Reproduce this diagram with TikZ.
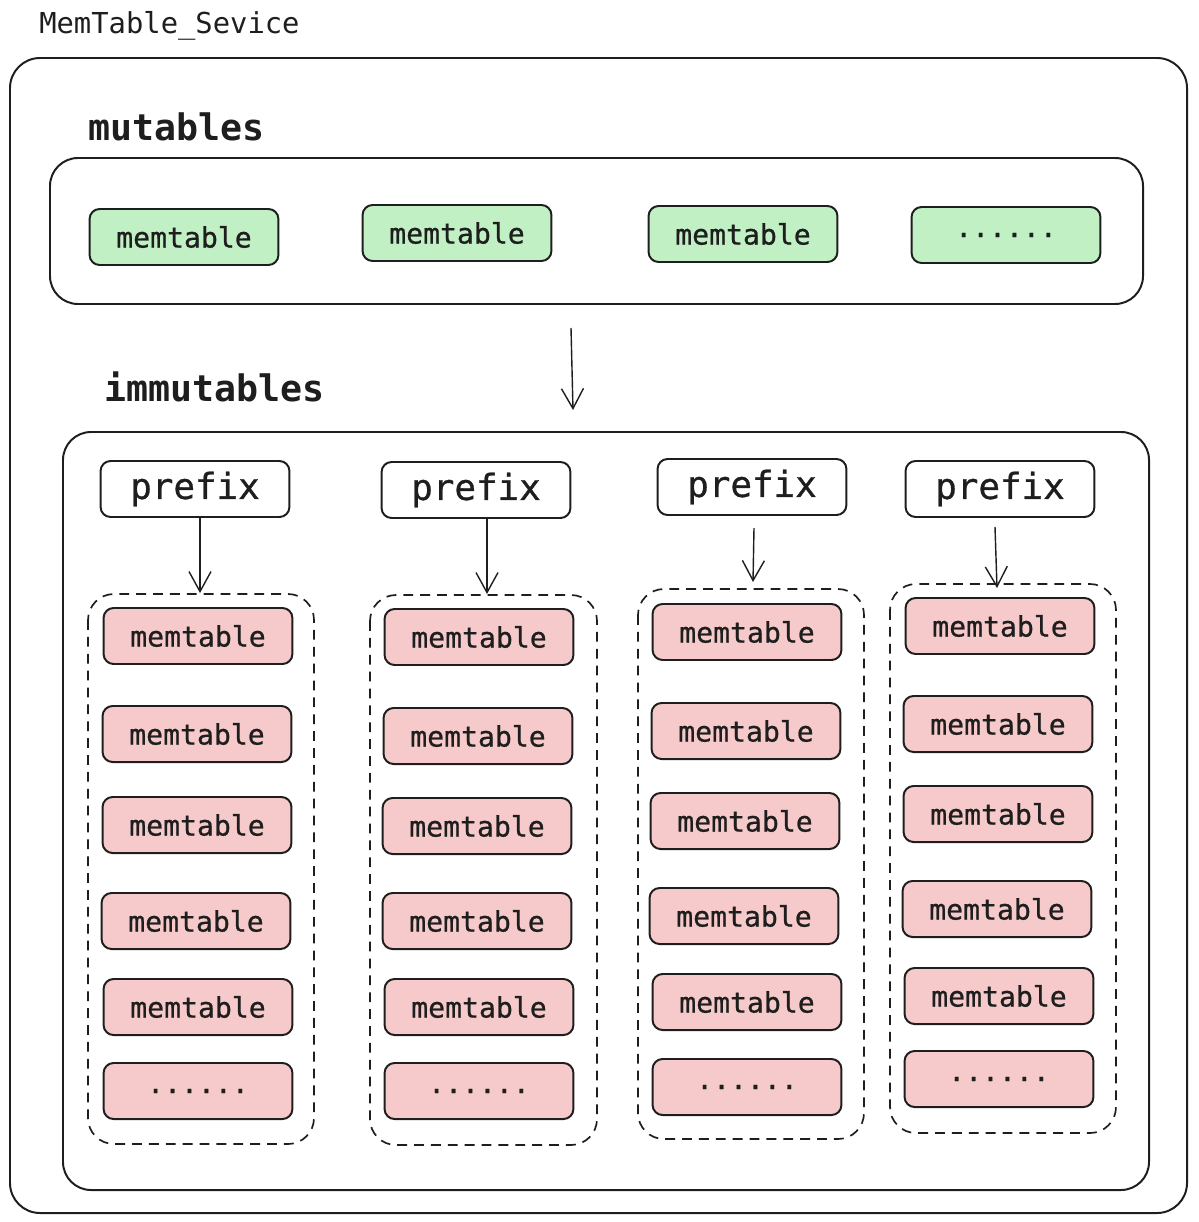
\documentclass[tikz,border=0pt]{standalone}
\usepackage{fontspec}
\setmonofont{DejaVu Sans Mono}
\newfontfamily\medmono{DejaVu Sans Mono}[FakeBold=0.8]
\usepackage{tikz}
\usetikzlibrary{arrows.meta, calc}
\usepackage{xcolor}

\definecolor{inkgray}{HTML}{1E1E1E}
\definecolor{mutgreen}{HTML}{C1F0C4}
\definecolor{immpink}{HTML}{F6CACA}

\tikzset{
    memgreen/.style={draw=inkgray, line width=1.4pt, fill=mutgreen, rounded corners=0.25cm,
        minimum width=4.72cm, minimum height=1.4cm, inner sep=0pt,
        font=\medmono\fontsize{20}{24}\selectfont, text=inkgray},
    mempink/.style={memgreen, fill=immpink},
    prefixbox/.style={memgreen, fill=white, font=\medmono\fontsize{25.5}{30}\selectfont},
    groupbox/.style={draw=inkgray, line width=1.4pt, rounded corners=0.7cm},
    columnbox/.style={draw=inkgray, line width=1.2pt, dash pattern=on 7pt off 5pt, rounded corners=0.65cm},
    flow/.style={draw=inkgray, line width=1pt, -{Straight Barb[length=5mm, width=5.5mm]}},
}

\begin{document}
\begin{tikzpicture}[x=0.025cm, y=-0.025cm]
                \useasboundingbox (0, 0) rectangle (1198, 1222);

                % service frame
                \node[anchor=west, inner sep=0pt, text=inkgray, font=\ttfamily\fontsize{20.5}{24}\selectfont] (title) at (39, 26) {MemTable\_Sevice};
                \draw[groupbox, rounded corners=0.75cm] (10, 58) rectangle (1187, 1213);

                % mutables
                \node[anchor=west, inner sep=0pt, text=inkgray, font=\ttfamily\bfseries\fontsize{26}{30}\selectfont] (mutlabel) at (88, 127) {mutables};
                \draw[groupbox] (50, 158) rectangle (1143, 304);
                \node[memgreen] (m1) at (184, 237) {memtable};
                \node[memgreen] (m2) at (457, 233) {memtable};
                \node[memgreen] (m3) at (743, 234) {memtable};
                \node[memgreen] (m4) at (1006, 235) {......};

                % move to immutables
                \coordinate (mfrom) at (571, 328);
                \coordinate (mto) at (573, 410);
                \draw[flow] (mfrom) -- (mto);

                % immutables
                \node[anchor=west, inner sep=0pt, text=inkgray, font=\ttfamily\bfseries\fontsize{26}{30}\selectfont] (immlabel) at (104, 387) {immutables};
                \draw[groupbox] (63, 432) rectangle (1149, 1190);

                % column 1
                \node[prefixbox] (p1) at (195, 489) {\raisebox{-2pt}{prefix}};
                \draw[columnbox] (88, 594) rectangle (314, 1144);
                \coordinate (c1) at (200, 593);
                \draw[flow] (p1.south -| c1) -- (c1);
                \node[mempink] (a1) at (198, 636) {memtable};
                \node[mempink] (a2) at (197, 734) {memtable};
                \node[mempink] (a3) at (197, 825) {memtable};
                \node[mempink] (a4) at (196, 921) {memtable};
                \node[mempink] (a5) at (198, 1007) {memtable};
                \node[mempink] (a6) at (198, 1091) {......};

                % column 2
                \node[prefixbox] (p2) at (476, 490) {\raisebox{-2pt}{prefix}};
                \draw[columnbox] (370, 595) rectangle (597, 1145);
                \coordinate (c2) at (487, 594);
                \draw[flow] (p2.south -| c2) -- (c2);
                \node[mempink] (b1) at (479, 637) {memtable};
                \node[mempink] (b2) at (478, 736) {memtable};
                \node[mempink] (b3) at (477, 826) {memtable};
                \node[mempink] (b4) at (477, 921) {memtable};
                \node[mempink] (b5) at (479, 1007) {memtable};
                \node[mempink] (b6) at (479, 1091) {......};

                % column 3
                \node[prefixbox] (p3) at (752, 487) {\raisebox{-2pt}{prefix}};
                \draw[columnbox] (638, 589) rectangle (864, 1139);
                \coordinate (c3top) at (754, 528);
                \coordinate (c3) at (753, 582);
                \draw[flow] (c3top) -- (c3);
                \node[mempink] (d1) at (747, 632) {memtable};
                \node[mempink] (d2) at (746, 731) {memtable};
                \node[mempink] (d3) at (745, 821) {memtable};
                \node[mempink] (d4) at (744, 916) {memtable};
                \node[mempink] (d5) at (747, 1002) {memtable};
                \node[mempink] (d6) at (747, 1087) {......};

                % column 4
                \node[prefixbox] (p4) at (1000, 489) {\raisebox{-2pt}{prefix}};
                \draw[columnbox] (890, 584) rectangle (1116, 1133);
                \coordinate (c4top) at (995, 527);
                \coordinate (c4) at (997, 588);
                \draw[flow] (c4top) -- (c4);
                \node[mempink] (e1) at (1000, 626) {memtable};
                \node[mempink] (e2) at (998, 724) {memtable};
                \node[mempink] (e3) at (998, 814) {memtable};
                \node[mempink] (e4) at (997, 909) {memtable};
                \node[mempink] (e5) at (999, 996) {memtable};
                \node[mempink] (e6) at (999, 1079) {......};

            \end{tikzpicture}
\end{document}
